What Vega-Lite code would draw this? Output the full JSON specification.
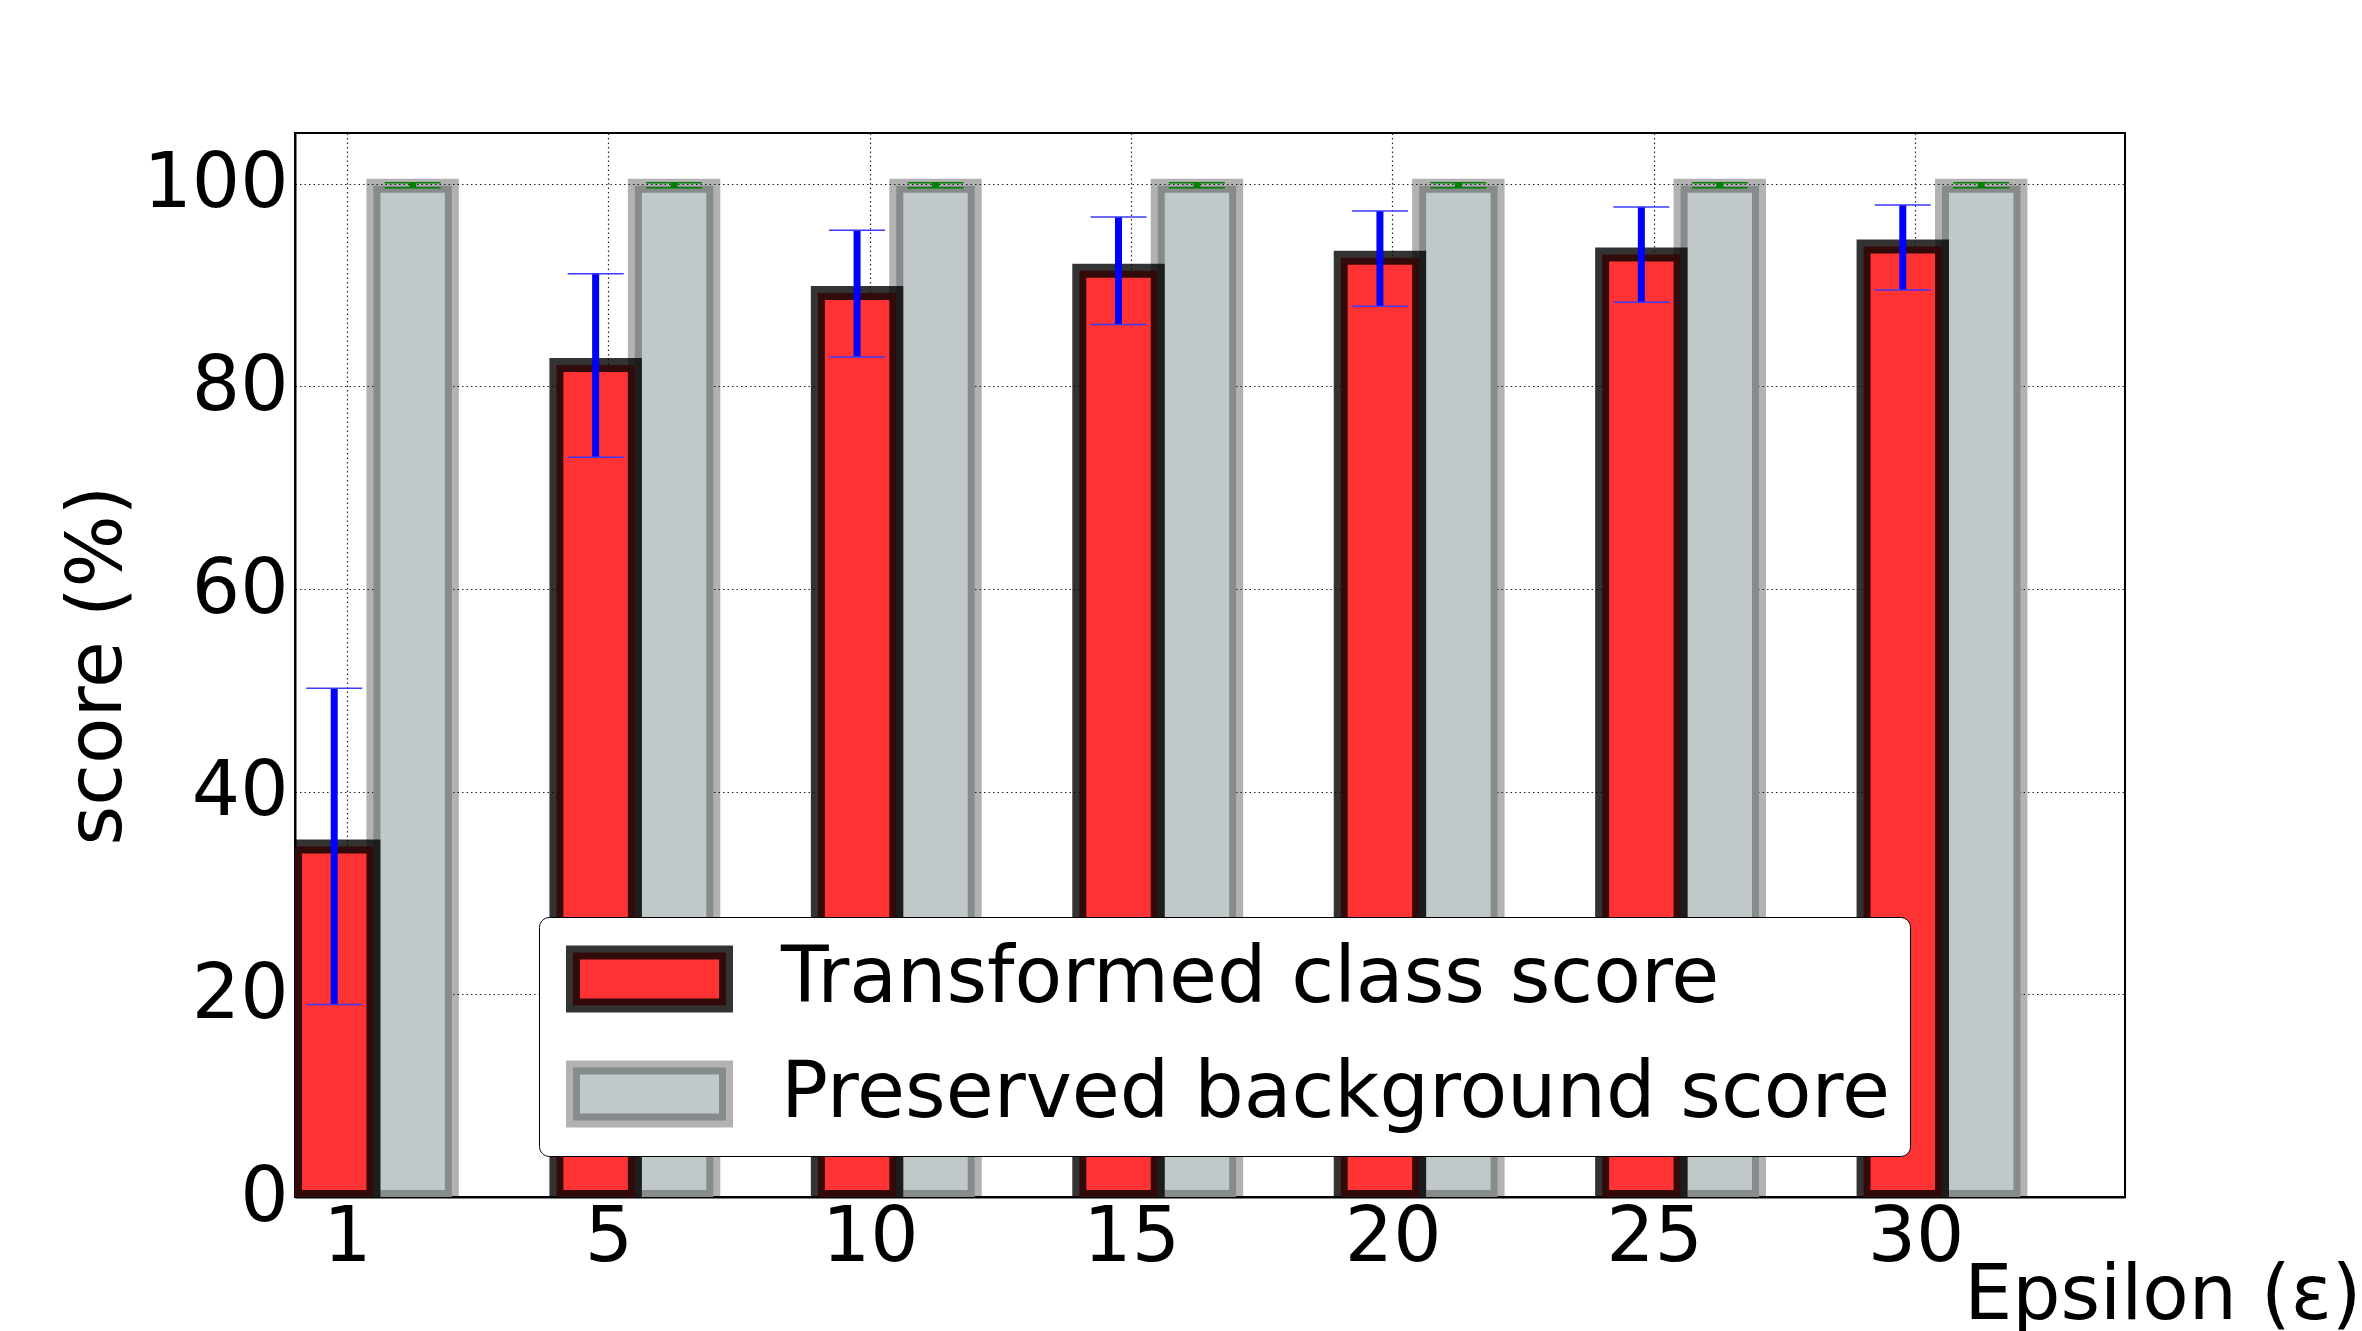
{
  "$schema": "https://vega.github.io/schema/vega-lite/v6.json",
  "autosize": {"type": "none"},
  "padding": {"left": 295, "top": 133, "right": 237, "bottom": 134},
  "width": 1830,
  "height": 1064,
  "background": "white",
  "config": {
    "font": "DejaVu Sans",
    "view": {"stroke": "black", "strokeWidth": 2},
    "axis": {
      "labelFont": "DejaVu Sans",
      "labelFontSize": 76,
      "labelColor": "black",
      "titleFont": "DejaVu Sans",
      "titleFontSize": 76,
      "titleFontWeight": "normal",
      "titleColor": "black",
      "grid": true,
      "gridColor": "black",
      "gridOpacity": 0.85,
      "gridWidth": 1.2,
      "gridDash": [1.5, 3],
      "domainColor": "black",
      "domainWidth": 2,
      "ticks": false,
      "zindex": 1
    },
    "legend": {
      "title": null,
      "orient": "none",
      "legendX": 244,
      "legendY": 784,
      "symbolType": "M-1,-0.3464H1V0.3464H-1Z",
      "symbolSize": 23409,
      "symbolStrokeWidth": 14,
      "symbolOffset": 7,
      "clipHeight": 84,
      "labelFont": "DejaVu Sans",
      "labelFontSize": 78,
      "labelColor": "black",
      "labelLimit": 3000,
      "labelOffset": 48,
      "padding": 20,
      "rowPadding": 31,
      "strokeColor": "black",
      "fillColor": "white",
      "cornerRadius": 10,
      "zindex": 2
    }
  },
  "data": {
    "values": [
      {"epsilon": 1, "series": "Transformed class score", "score": 34.6, "lo": 19.0, "hi": 50.2},
      {"epsilon": 5, "series": "Transformed class score", "score": 82.1, "lo": 73.0, "hi": 91.1},
      {"epsilon": 10, "series": "Transformed class score", "score": 89.2, "lo": 82.9, "hi": 95.4},
      {"epsilon": 15, "series": "Transformed class score", "score": 91.4, "lo": 86.1, "hi": 96.7},
      {"epsilon": 20, "series": "Transformed class score", "score": 92.7, "lo": 87.9, "hi": 97.3},
      {"epsilon": 25, "series": "Transformed class score", "score": 93.0, "lo": 88.3, "hi": 97.7},
      {"epsilon": 30, "series": "Transformed class score", "score": 93.8, "lo": 89.5, "hi": 97.9},
      {"epsilon": 1, "series": "Preserved background score", "score": 99.8, "lo": 99.6, "hi": 100.1},
      {"epsilon": 5, "series": "Preserved background score", "score": 99.8, "lo": 99.6, "hi": 100.1},
      {"epsilon": 10, "series": "Preserved background score", "score": 99.8, "lo": 99.6, "hi": 100.1},
      {"epsilon": 15, "series": "Preserved background score", "score": 99.8, "lo": 99.6, "hi": 100.1},
      {"epsilon": 20, "series": "Preserved background score", "score": 99.8, "lo": 99.6, "hi": 100.1},
      {"epsilon": 25, "series": "Preserved background score", "score": 99.8, "lo": 99.6, "hi": 100.1},
      {"epsilon": 30, "series": "Preserved background score", "score": 99.8, "lo": 99.6, "hi": 100.1}
    ]
  },
  "encoding": {
    "x": {
      "field": "epsilon",
      "type": "ordinal",
      "sort": [1, 5, 10, 15, 20, 25, 30],
      "scale": {"type": "band", "paddingInner": 0.4, "paddingOuter": 0.2, "align": 0},
      "axis": {
        "title": "Epsilon (ε)",
        "labelAngle": 0,
        "labelPadding": 3,
        "labelOffset": -26,
        "bandPosition": 0.3333,
        "titleAlign": "right",
        "titleAnchor": "start",
        "titleBaseline": "alphabetic",
        "titleX": 2066,
        "titleY": 121
      }
    },
    "xOffset": {
      "field": "series",
      "type": "nominal",
      "scale": {"type": "band", "domain": ["Transformed class score", "Preserved background score"], "paddingInner": 0, "paddingOuter": 0}
    }
  },
  "layer": [
    {
      "transform": [{"filter": "datum.series === 'Preserved background score'"}],
      "mark": {"type": "bar", "strokeWidth": 14, "clip": true},
      "encoding": {
        "y": {
          "field": "score",
          "type": "quantitative",
          "stack": null,
          "scale": {"domain": [0, 105], "nice": false, "zero": true},
          "axis": {
            "title": "score (%)",
            "values": [0, 20, 40, 60, 80, 100],
            "labelPadding": 7,
            "titleAngle": 270,
            "titleAlign": "center",
            "titleAnchor": "middle",
            "titleBaseline": "alphabetic",
            "titleX": -175,
            "titleY": 532
          }
        },
        "color": {
          "field": "series",
          "type": "nominal",
          "scale": {"domain": ["Transformed class score", "Preserved background score"], "range": ["#ff3333", "#c0c8c9"]},
          "legend": {"title": null}
        },
        "stroke": {
          "field": "series",
          "type": "nominal",
          "scale": {"domain": ["Transformed class score", "Preserved background score"], "range": ["rgba(0,0,0,0.8)", "rgba(0,0,0,0.3)"]},
          "legend": {"title": null}
        }
      }
    },
    {
      "transform": [{"filter": "datum.series === 'Transformed class score'"}],
      "mark": {"type": "bar", "strokeWidth": 14, "clip": true},
      "encoding": {
        "y": {"field": "score", "type": "quantitative", "stack": null},
        "color": {"field": "series", "type": "nominal"},
        "stroke": {"field": "series", "type": "nominal"}
      }
    },
    {
      "transform": [{"filter": "datum.series === 'Transformed class score'"}],
      "mark": {"type": "rule", "color": "#0000ff", "strokeWidth": 7},
      "encoding": {
        "y": {"field": "lo", "type": "quantitative"},
        "y2": {"field": "hi"}
      }
    },
    {
      "transform": [{"filter": "datum.series === 'Transformed class score'"}],
      "mark": {"type": "tick", "orient": "horizontal", "color": "#3a3aff", "size": 56, "thickness": 1.5, "opacity": 1},
      "encoding": {"y": {"field": "hi", "type": "quantitative"}}
    },
    {
      "transform": [{"filter": "datum.series === 'Transformed class score'"}],
      "mark": {"type": "tick", "orient": "horizontal", "color": "#3a3aff", "size": 56, "thickness": 1.5, "opacity": 1},
      "encoding": {"y": {"field": "lo", "type": "quantitative"}}
    },
    {
      "transform": [{"filter": "datum.series === 'Preserved background score'"}],
      "mark": {"type": "rule", "color": "#008000", "strokeWidth": 7},
      "encoding": {
        "y": {"field": "lo", "type": "quantitative"},
        "y2": {"field": "hi"}
      }
    },
    {
      "transform": [{"filter": "datum.series === 'Preserved background score'"}],
      "mark": {"type": "tick", "orient": "horizontal", "color": "#008000", "size": 56, "thickness": 1.5, "opacity": 1},
      "encoding": {"y": {"field": "hi", "type": "quantitative"}}
    },
    {
      "transform": [{"filter": "datum.series === 'Preserved background score'"}],
      "mark": {"type": "tick", "orient": "horizontal", "color": "#008000", "size": 56, "thickness": 1.5, "opacity": 1},
      "encoding": {"y": {"field": "lo", "type": "quantitative"}}
    }
  ]
}
